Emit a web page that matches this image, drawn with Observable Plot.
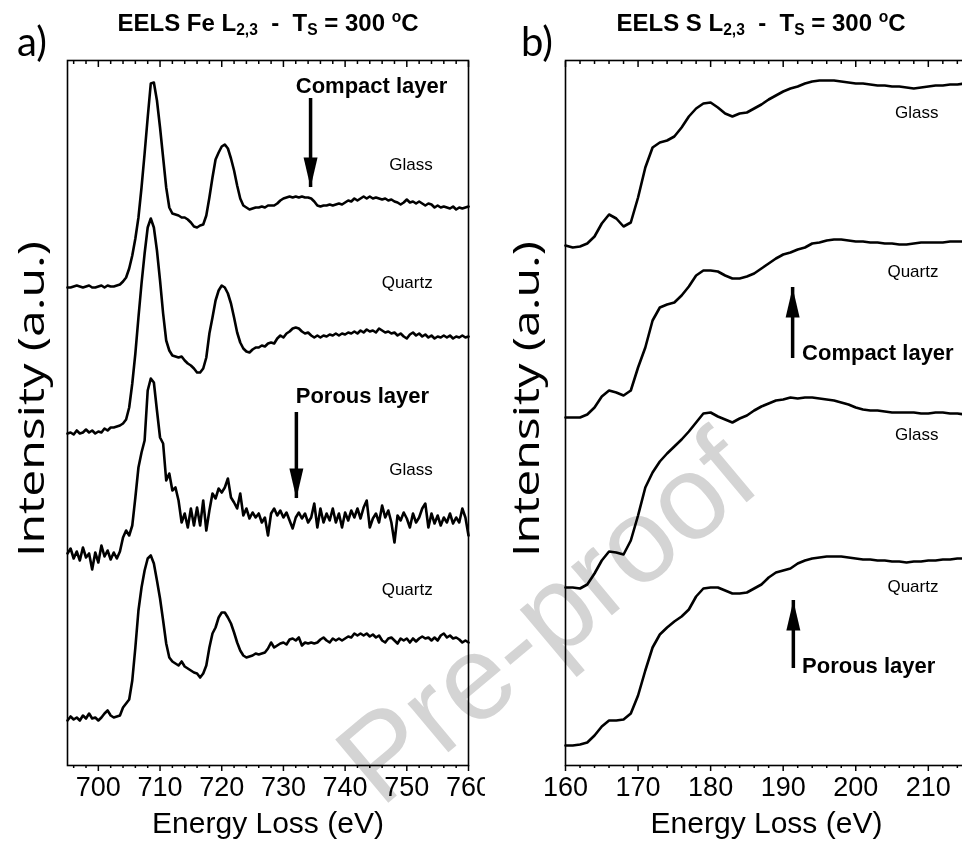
<!DOCTYPE html>
<html>
<head>
<meta charset="utf-8">
<script src="https://cdn.jsdelivr.net/npm/d3@7"></script>
<script src="https://cdn.jsdelivr.net/npm/@observablehq/plot@0.6"></script>
<style>
  html, body { margin: 0; padding: 0; background: #fff; overflow: hidden; }
  #fig { position: relative; width: 962px; height: 853px; overflow: hidden; background: #fff;
         font-family: "Liberation Sans", Arial, sans-serif; color: #000; }
  #fig > * { position: absolute; }
  .title { top: 9px; font-weight: bold; font-size: 24px; line-height: 1; white-space: nowrap; transform: translateX(-50%); }
  .title sub { font-size: 65%; vertical-align: -0.3em; }
  .title sup { font-size: 65%; vertical-align: 0.55em; }
  .tag { top: 21px; font-family: Lato, "Open Sans", sans-serif; font-size: 40px; line-height: 1; }
  #panelA { left: 0; top: 0; width: 485px; height: 853px; }
  #panelB { left: 485px; top: 0; width: 482px; height: 853px; }
  #panelA svg, #panelB svg { max-width: none; }
  #stamp { left: 0; top: 0; mix-blend-mode: multiply; pointer-events: none; }
</style>
</head>
<body>
<div id="fig">
  <div id="panelA"></div>
  <div id="panelB"></div>
  <div class="title" style="left:268px">EELS Fe L<sub>2,3</sub>&nbsp; - &nbsp;T<sub>S</sub> = 300 <sup>o</sup>C</div>
  <div class="title" style="left:761px">EELS S L<sub>2,3</sub>&nbsp; - &nbsp;T<sub>S</sub> = 300 <sup>o</sup>C</div>
  <div class="tag" style="left:17px">a)</div>
  <div class="tag" style="left:521px">b)</div>
  <svg id="stamp" width="962" height="853">
    <text transform="translate(552,624) rotate(-40)" text-anchor="middle" dominant-baseline="middle"
          font-family="Liberation Sans, Arial, sans-serif" font-size="120" fill="#d4d4d4">Pre-proof</text>
  </svg>
</div>
<script>
// ---------- Fe L2,3 edge (panel a) ----------
// Energy-loss grid of the Fe spectra, 0.5 eV sampling
const feEnergy = d3.range(695, 760.001, 0.5);
const feMajor = [700, 710, 720, 730, 740, 750, 760];
const feMinor = [696, 698, 702, 704, 706, 708, 712, 714, 716, 718, 722, 724, 726, 728, 732, 734, 736, 738, 742, 744, 746, 748, 752, 754, 756, 758];

// Stacked intensities (arbitrary units, vertical offsets included)
const feCompactGlass = [
  478, 478, 479, 480, 479, 478, 479, 480, 478, 478,
  479, 480, 478, 480, 479, 479, 480, 481, 484, 488,
  497, 510, 527, 548, 578, 612, 648, 682, 683, 665,
  638, 608, 578, 558, 552, 551, 550, 548, 548, 546,
  543, 539, 538, 540, 541, 550, 568, 588, 606, 613,
  619, 621, 617, 607, 595, 580, 567, 560, 558, 556,
  557, 558, 558, 559, 558, 560, 560, 560, 562, 565,
  567, 568, 569, 568, 569, 568, 569, 568, 568, 567,
  564, 560, 559, 560, 560, 561, 560, 561, 562, 561,
  563, 565, 564, 567, 565, 567, 569, 567, 569, 567,
  568, 567, 566, 567, 565, 566, 564, 563, 561, 563,
  566, 563, 564, 562, 564, 562, 560, 562, 561, 558,
  560, 558, 559, 558, 557, 559, 556, 558, 557, 558,
  559
];
const feCompactQuartz = [
  332, 333, 331, 335, 332, 333, 336, 333, 335, 332,
  334, 333, 337, 335, 338, 338, 339, 340, 342, 346,
  358, 382, 412, 448, 482, 512, 538, 547, 538, 515,
  485, 452, 425, 415, 410, 409, 408, 409, 405, 402,
  400, 397, 393, 393, 397, 408, 432, 448, 465, 475,
  480, 478, 472, 462, 448, 433, 423, 417, 414, 413,
  416, 418, 418, 420, 419, 422, 423, 422, 427, 430,
  428, 432, 434, 437, 438, 437, 434, 432, 433, 430,
  428, 430, 428, 430, 429, 431, 430, 432, 430, 432,
  431, 433, 432, 434, 432, 435, 433, 436, 434, 435,
  433, 437, 435, 433, 434, 432, 433, 430, 432, 429,
  427, 431, 433, 430, 432, 429, 431, 428, 430, 427,
  429, 428, 430, 428, 430, 427, 429, 428, 430, 428,
  429
];
const fePorousGlass = [
  212, 217, 207, 214, 205, 218, 208, 212, 196, 213,
  203, 220, 209, 215, 206, 213, 207, 214, 228, 235,
  230, 240, 268, 298, 313, 325, 375, 387, 383, 355,
  328, 322, 285, 292, 275, 278, 265, 243, 252, 238,
  257, 240, 258, 240, 265, 235, 255, 272, 267, 277,
  273, 278, 287, 268, 263, 257, 272, 250, 257, 247,
  253, 248, 252, 243, 248, 230, 252, 257, 250, 255,
  248, 253, 245, 237, 248, 253, 247, 252, 243, 248,
  262, 238, 257, 243, 252, 245, 257, 243, 252, 238,
  253, 245, 255, 248, 257, 247, 258, 265, 238, 247,
  252, 243, 260, 248, 255, 243, 223, 250, 245, 253,
  247, 238, 252, 243, 248, 257, 262, 238, 252, 242,
  250, 240, 248, 243, 252, 242, 248, 243, 257, 248,
  230
];
const fePorousQuartz = [
  45, 49, 46, 48, 45, 50, 47, 52, 47, 48,
  45, 48, 52, 55, 50, 48, 49, 50, 58, 62,
  66, 85, 118, 155, 178, 195, 207, 210, 202, 185,
  167, 145, 122, 108, 104, 102, 100, 104, 99, 97,
  95, 93, 92, 88, 92, 100, 118, 132, 138, 148,
  153, 153, 148, 142, 133, 123, 115, 110, 108, 109,
  110, 112, 111, 112, 113, 117, 123, 118, 120, 122,
  123, 121, 126, 127, 125, 128, 120, 123, 122, 123,
  122, 123, 126, 128, 125, 123, 127, 125, 127, 125,
  127, 129, 128, 132, 130, 132, 130, 132, 129, 131,
  128, 130, 125, 123, 127, 128, 125, 122, 127, 125,
  127, 123, 127, 124, 127, 129, 127, 128, 125, 128,
  125, 130, 132, 128, 130, 127, 128, 126, 123, 125,
  123
];
const feSamples = [
  {energy: 754.2, counts: 601, label: "Glass"},
  {energy: 754.2, counts: 483, label: "Quartz"},
  {energy: 754.2, counts: 296, label: "Glass"},
  {energy: 754.2, counts: 176, label: "Quartz"}
];
const feLayers = [
  {energy: 732.0, counts: 680, label: "Compact layer"},
  {energy: 732.0, counts: 370, label: "Porous layer"}
];
const feArrows = [
  {energy: 734.4, tail: 667, tip: 578},
  {energy: 732.1, tail: 353, tip: 267}
];

// ---------- S L2,3 edge (panel b) ----------
const sEnergy = d3.range(160, 215.001, 1);
const sMajor = [160, 170, 180, 190, 200, 210];
const sMinor = [162, 164, 166, 168, 172, 174, 176, 178, 182, 184, 186, 188, 192, 194, 196, 198, 202, 204, 206, 208, 212, 214];

const sCompactGlass = [
  520, 518, 519, 522, 529, 542, 551, 547, 539, 543,
  568, 598, 618, 623, 625, 629, 638, 649, 657, 662,
  663, 658, 652, 649, 652, 653, 657, 661, 666, 670,
  674, 677, 679, 682, 684, 685, 685, 685, 684, 683,
  682, 682, 681, 680, 680, 679, 679, 678, 677, 678,
  679, 680, 680, 681, 681, 682
];
const sCompactQuartz = [
  348, 348, 348, 351, 358, 369, 375, 373, 370, 375,
  398, 418, 445, 458, 461, 463, 470, 479, 490, 495,
  495, 494, 490, 487, 487, 489, 492, 497, 502, 507,
  511, 513, 516, 518, 522, 523, 525, 526, 526, 525,
  524, 524, 523, 523, 522, 522, 521, 521, 522, 523,
  523, 523, 523, 524, 524, 524
];
const sPorousGlass = [
  178, 178, 177, 181, 192, 205, 214, 213, 211, 225,
  250, 278, 293, 304, 312, 319, 326, 334, 343, 352,
  353, 349, 346, 343, 347, 350, 355, 359, 362, 365,
  366, 368, 367, 368, 368, 367, 366, 365, 363, 361,
  358, 356, 355, 355, 354, 353, 353, 353, 353, 352,
  352, 353, 353, 352, 352, 351
];
const sPorousQuartz = [
  20, 20, 21, 23, 30, 39, 45, 45, 46, 52,
  70, 95, 118, 131, 138, 144, 149, 156, 169, 177,
  178, 178, 175, 172, 172, 173, 177, 181, 188, 193,
  195, 197, 202, 205, 207, 208, 209, 209, 209, 208,
  207, 206, 206, 205, 205, 204, 204, 203, 204, 204,
  205, 205, 206, 206, 207, 207
];
const sSamples = [
  {energy: 211.4, counts: 653, label: "Glass"},
  {energy: 211.4, counts: 494, label: "Quartz"},
  {energy: 211.4, counts: 331, label: "Glass"},
  {energy: 211.4, counts: 179, label: "Quartz"}
];
const sLayers = [
  {energy: 192.6, counts: 413, label: "Compact layer"},
  {energy: 192.6, counts: 100, label: "Porous layer"}
];
const sArrows = [
  {energy: 191.3, tail: 407, tip: 478},
  {energy: 191.4, tail: 97, tip: 165}
];

const X_LABEL = "Energy Loss (eV)";
const Y_LABEL = "Intensity (a.u.)";

// Long-format table for Plot.line
function toRows(energy, seriesMap) {
  return Object.entries(seriesMap).flatMap(([name, values]) =>
    energy.map((e, i) => ({energy: e, counts: values[i], series: name})));
}
const feRows = toRows(feEnergy, {
  "compact glass": feCompactGlass, "compact quartz": feCompactQuartz,
  "porous glass": fePorousGlass, "porous quartz": fePorousQuartz
});
const sRows = toRows(sEnergy, {
  "compact glass": sCompactGlass, "compact quartz": sCompactQuartz,
  "porous glass": sPorousGlass, "porous quartz": sPorousQuartz
});

// Filled, elongated arrow head with its apex at the symbol origin
const arrowHead = {
  draw(ctx) {
    ctx.moveTo(0, 0);
    ctx.lineTo(7, 30);
    ctx.lineTo(-7, 30);
    ctx.closePath();
  }
};

const FONT = "Liberation Sans, Arial, sans-serif";

function panel({width, marginLeft, marginRight, domain, major, minor, rows, samples, layers, arrows, background, ylabelDx}) {
  const svg = Plot.plot({
    width, height: 853,
    marginTop: 60, marginBottom: 88, marginLeft, marginRight,
    x: {domain, label: null},
    y: {domain: [0, 705], axis: null},
    style: {background, fontFamily: FONT, color: "#000", overflow: "visible", maxWidth: "none"},
    marks: [
      Plot.axisX({ticks: major, tickSize: 6, tickPadding: 5, fontSize: 27, label: null, strokeWidth: 1.5}),
      Plot.axisX({ticks: minor, tickSize: 3, tickFormat: () => "", label: null, strokeWidth: 1.5}),
      Plot.axisX({anchor: "top", ticks: major, tickSize: 6, dy: 6, tickFormat: () => "", label: null, strokeWidth: 1.5}),
      Plot.axisX({anchor: "top", ticks: minor, tickSize: 3, dy: 3, tickFormat: () => "", label: null, strokeWidth: 1.5}),
      Plot.frame({stroke: "#000", strokeWidth: 1.6}),
      Plot.line(rows, {x: "energy", y: "counts", z: "series", stroke: "#000", strokeWidth: 2.6, strokeLinejoin: "round"}),
      Plot.text(samples, {x: "energy", y: "counts", text: "label", textAnchor: "end", fontSize: 17}),
      Plot.text(layers, {x: "energy", y: "counts", text: "label", textAnchor: "start", fontSize: 22, fontWeight: "bold"}),
      Plot.ruleX(arrows, {x: "energy", y1: "tail", y2: "tip", stroke: "#000", strokeWidth: 3.5}),
      Plot.dot(arrows, {x: "energy", y: "tip", symbol: arrowHead, rotate: d => d.tip > d.tail ? 0 : 180, fill: "#000", stroke: "none", r: 5}),
      Plot.text([X_LABEL], {text: d => d, frameAnchor: "bottom", dy: 67, fontSize: 30}),
      Plot.text([Y_LABEL], {text: d => d, frameAnchor: "left", textAnchor: "middle", rotate: -90, dx: ylabelDx, dy: -14,
                            fontSize: 37, fontFamily: "Open Sans, Liberation Sans, sans-serif"})
    ]
  });
  // spread the vertical axis title over the height it spans beside the spectra
  d3.select(svg).selectAll("text")
    .filter(function() { return this.textContent === Y_LABEL; })
    .attr("textLength", 316)
    .attr("lengthAdjust", "spacingAndGlyphs");
  return svg;
}

const a = panel({
  width: 485, marginLeft: 67, marginRight: 17, domain: [695, 760],
  major: feMajor, minor: feMinor, rows: feRows, samples: feSamples, layers: feLayers, arrows: feArrows,
  background: "transparent", ylabelDx: -35
});
const b = panel({
  width: 482, marginLeft: 80, marginRight: 0, domain: [160, 215.4],
  major: sMajor, minor: sMinor, rows: sRows, samples: sSamples, layers: sLayers, arrows: sArrows,
  background: "#fff", ylabelDx: -38
});
document.getElementById("panelA").appendChild(a);
document.getElementById("panelB").appendChild(b);
</script>
</body>
</html>
